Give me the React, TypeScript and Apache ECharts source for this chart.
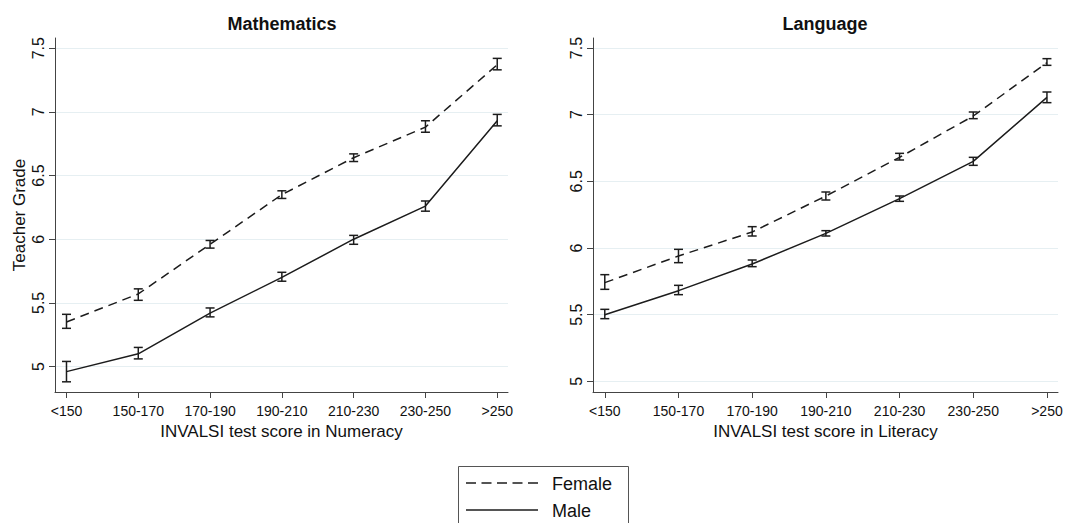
import React, { useEffect, useRef } from "react";
import * as echarts from "echarts";

const categories = ["<150", "150-170", "170-190", "190-210", "210-230", "230-250", ">250"];
const yTicks = [5, 5.5, 6, 6.5, 7, 7.5];

const mathFemale = [5.35, 5.57, 5.96, 6.35, 6.64, 6.88, 7.37];
const mathFemaleLo = [5.30, 5.52, 5.93, 6.32, 6.61, 6.84, 7.33];
const mathFemaleHi = [5.41, 5.61, 5.99, 6.38, 6.67, 6.93, 7.42];
const mathMale = [4.96, 5.10, 5.42, 5.70, 6.00, 6.26, 6.93];
const mathMaleLo = [4.88, 5.06, 5.39, 5.67, 5.96, 6.22, 6.89];
const mathMaleHi = [5.04, 5.15, 5.46, 5.74, 6.03, 6.30, 6.98];

const langFemale = [5.74, 5.94, 6.12, 6.39, 6.68, 6.99, 7.39];
const langFemaleLo = [5.69, 5.89, 6.09, 6.36, 6.66, 6.97, 7.37];
const langFemaleHi = [5.80, 5.99, 6.16, 6.42, 6.71, 7.02, 7.42];
const langMale = [5.50, 5.68, 5.88, 6.11, 6.37, 6.65, 7.13];
const langMaleLo = [5.47, 5.65, 5.86, 6.09, 6.35, 6.62, 7.09];
const langMaleHi = [5.54, 5.72, 5.91, 6.13, 6.39, 6.68, 7.17];

const FONT = "Liberation Sans, Arial, sans-serif";
const INK = "#1c1c1c";
const AXIS = "#444";
const GRIDLINE = "#e6eff2";

const catIdx = categories.map((_, i) => i);

function lineSeries(name: string, vals: number[], idx: number, dashed: boolean) {
  return {
    name,
    type: "line",
    xAxisIndex: idx,
    yAxisIndex: idx,
    data: vals.map((v, i) => [i, v]),
    showSymbol: false,
    symbol: "none",
    lineStyle: { color: INK, width: 1.5, type: dashed ? [9, 6] : "solid" },
    z: 3,
  };
}

function errSeries(lo: number[], hi: number[], idx: number) {
  return {
    type: "custom",
    xAxisIndex: idx,
    yAxisIndex: idx,
    data: lo.map((l, i) => [i, l, hi[i]]),
    encode: { x: 0, y: [1, 2] },
    z: 4,
    renderItem: (params: any, api: any) => {
      const x = api.value(0);
      const a = api.coord([x, api.value(1)]);
      const b = api.coord([x, api.value(2)]);
      const hw = 4.5;
      const style = { stroke: INK, lineWidth: 1.5, fill: "none" };
      return {
        type: "group",
        children: [
          { type: "line", shape: { x1: a[0], y1: a[1], x2: b[0], y2: b[1] }, style },
          { type: "line", shape: { x1: a[0] - hw, y1: a[1], x2: a[0] + hw, y2: a[1] }, style },
          { type: "line", shape: { x1: b[0] - hw, y1: b[1], x2: b[0] + hw, y2: b[1] }, style },
        ],
      };
    },
  };
}

function xAxis(idx: number, name: string) {
  return {
    type: "value",
    gridIndex: idx,
    min: -0.16,
    max: 6.15,
    name,
    nameLocation: "middle",
    nameGap: 26,
    nameTextStyle: { fontFamily: FONT, fontSize: 17, color: "#111" },
    axisLine: { show: true, onZero: false, lineStyle: { color: AXIS, width: 1 } },
    axisTick: { show: true, length: 6, lineStyle: { color: AXIS }, customValues: catIdx },
    axisLabel: {
      customValues: catIdx,
      formatter: (v: number) => categories[Math.round(v)] ?? "",
      fontFamily: FONT,
      fontSize: 14,
      color: "#111",
      margin: 12,
    },
    splitLine: { show: false },
  };
}

function yAxis(idx: number, min: number, max: number, name: string) {
  return {
    type: "value",
    gridIndex: idx,
    min,
    max,
    name,
    nameLocation: "middle",
    nameGap: 27,
    nameTextStyle: { fontFamily: FONT, fontSize: 17, color: "#111" },
    axisLine: { show: true, onZero: false, lineStyle: { color: AXIS, width: 1 } },
    axisTick: { show: true, length: 6, lineStyle: { color: AXIS }, customValues: yTicks },
    axisLabel: {
      customValues: yTicks,
      rotate: 90,
      fontFamily: FONT,
      fontSize: 16,
      color: "#111",
      margin: 9,
      formatter: (v: number) => String(v),
    },
    splitLine: { show: true, lineStyle: { color: GRIDLINE, width: 1 } },
  };
}

export default function App() {
  const ref = useRef<HTMLDivElement>(null);
  useEffect(() => {
    if (!ref.current) return;
    const chart = echarts.init(ref.current, undefined, { renderer: "svg" });
    const option: any = {
      animation: false,
      backgroundColor: "#ffffff",
      grid: [
        { left: 55, top: 38, width: 453, height: 354, containLabel: false },
        { left: 593, top: 38, width: 465, height: 354, containLabel: false },
      ],
      xAxis: [
        xAxis(0, "INVALSI test score in Numeracy"),
        xAxis(1, "INVALSI test score in Literacy"),
      ],
      yAxis: [yAxis(0, 4.8, 7.58, "Teacher Grade"), yAxis(1, 4.92, 7.575, "")],
      series: [
        lineSeries("Female", mathFemale, 0, true),
        lineSeries("Male", mathMale, 0, false),
        errSeries(mathFemaleLo, mathFemaleHi, 0),
        errSeries(mathMaleLo, mathMaleHi, 0),
        lineSeries("Female", langFemale, 1, true),
        lineSeries("Male", langMale, 1, false),
        errSeries(langFemaleLo, langFemaleHi, 1),
        errSeries(langMaleLo, langMaleHi, 1),
      ],
      graphic: [
        {
          type: "text",
          x: 282,
          y: 24,
          style: { text: "Mathematics", font: `bold 18px ${FONT}`, fill: "#111", align: "center", verticalAlign: "middle" },
        },
        {
          type: "text",
          x: 825,
          y: 24,
          style: { text: "Language", font: `bold 18px ${FONT}`, fill: "#111", align: "center", verticalAlign: "middle" },
        },
        {
          type: "rect",
          shape: { x: 458.5, y: 466.5, width: 170, height: 70 },
          style: { fill: "#fff", stroke: "#555", lineWidth: 1 },
        },
        {
          type: "line",
          shape: { x1: 466, y1: 483, x2: 538, y2: 483 },
          style: { stroke: INK, lineWidth: 1.5, lineDash: [10, 5.5] },
        },
        {
          type: "line",
          shape: { x1: 466, y1: 510, x2: 538, y2: 510 },
          style: { stroke: INK, lineWidth: 1.5 },
        },
        {
          type: "text",
          x: 552,
          y: 484,
          style: { text: "Female", font: `18px ${FONT}`, fill: "#111", verticalAlign: "middle" },
        },
        {
          type: "text",
          x: 552,
          y: 511,
          style: { text: "Male", font: `18px ${FONT}`, fill: "#111", verticalAlign: "middle" },
        },
      ],
    };
    chart.setOption(option);
    return () => chart.dispose();
  }, []);
  return (
    <div
      ref={ref}
      style={{ position: "fixed", left: 0, top: 0, width: 1086, height: 523, background: "#fff" }}
    />
  );
}
